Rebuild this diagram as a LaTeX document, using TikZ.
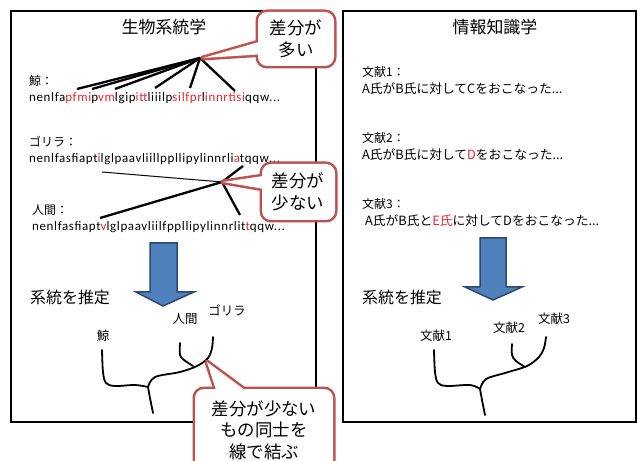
\documentclass[tikz,border=0pt]{standalone}
\usepackage{fontspec}
\setmainfont{Noto Sans CJK JP}
\newfontfamily\seqfont[LetterSpace=5]{Carlito}
\definecolor{calloutred}{HTML}{C0504D}
\definecolor{arrowblue}{HTML}{4F81BD}
\definecolor{arrowedge}{HTML}{2C4A70}
\definecolor{diffred}{HTML}{E8262B}
\newcommand\rd[1]{\textcolor{diffred}{#1}}
\tikzset{
  panel/.style={draw=black, line width=1.8bp},
  title/.style={inner sep=0, font=\fontsize{17}{20}\selectfont},
  big/.style={inner sep=0, font=\fontsize{16}{19}\selectfont},
  lbl/.style={inner sep=0, anchor=west, font=\fontsize{12}{14}\selectfont},
  doc/.style={inner sep=0, anchor=west, font=\fontsize{12.8}{15}\selectfont},
  seq/.style={inner sep=0, anchor=west, font=\seqfont\fontsize{13}{15}\selectfont},
  leaf/.style={inner sep=0, font=\fontsize{12.5}{14}\selectfont},
  calltext/.style={inner sep=0, align=center, font=\fontsize{17.5}{21.5}\selectfont},
  hubline/.style={line width=2.3bp, black},
  thinline/.style={line width=1bp, black},
  tree/.style={line width=1.8bp, black, line cap=round},
  bigarrow/.style={fill=arrowblue, draw=arrowedge, line width=1.5bp, line join=miter},
  cstroke/.style={draw=calloutred, line width=5bp, line join=round},
  cfill/.style={fill=white},
}
\begin{document}
\begin{tikzpicture}[x=1bp,y=-1bp]
\useasboundingbox (0,0) rectangle (638,461);
\clip (0,0) rectangle (638,461);

% panels
\draw[panel] (11,11) rectangle (316,422);
\draw[panel] (343,11) rectangle (636,422);

\node[title] (t1) at (164,27) {生物系統学};
\node[title] (t2) at (495,27) {情報知識学};

% left texts
\node[lbl] (whale) at (29,81) {鯨：};
\node[seq] (wseq) at (29,98) {nenlfa\rd{pfmi}p\rd{vm}lgip\rd{itt}liiilp\rd{silfpr}l\rd{innrtisi}qqw...};
\node[lbl] (gor) at (29,142) {ゴリラ：};
\node[seq] (gseq) at (29,159) {nenlfasfiapt\rd{i}lglpaavliillppllipylinnrli\rd{a}tqqw...};
\node[lbl] (hum) at (32,210) {人間：};
\node[seq] (hseq) at (32,227) {nenlfasfiapt\rd{v}lglpaavliilfppllipylinnrlit\rd{t}qqw...};

% hub lines (whale)
\coordinate (hub1) at (200,58);
\coordinate (w1) at (77,89);
\coordinate (w2) at (92,89);
\coordinate (w3) at (115,89);
\coordinate (w4) at (155,88);
\coordinate (w5) at (190,88);
\coordinate (w6) at (235,91);
\foreach \p in {w1,w2,w3,w4,w5,w6} \draw[hubline] (hub1) -- (\p);

% hub lines (gorilla / human)
\coordinate (hub2) at (222,182);
\coordinate (g1) at (102,172);
\coordinate (g2) at (243,166);
\coordinate (h1) at (100,218);
\coordinate (h2) at (240,215);
\draw[thinline] (g1) -- (hub2);
\draw[hubline] (hub2) -- (g2);
\draw[hubline] (h1) -- (hub2);
\draw[hubline] (hub2) -- (h2);

% arrows
\draw[bigarrow] (150,243) -- (177,243) -- (177,292) -- (194,292) -- (163,306) -- (136,292) -- (150,292) -- cycle;
\draw[bigarrow] (480,238) -- (506,238) -- (506,287) -- (522,287) -- (493,300) -- (465,287) -- (480,287) -- cycle;

\node[big, anchor=west] (est1) at (30,297) {系統を推定};
\node[big, anchor=west] (est2) at (362,297) {系統を推定};

% left tree
\node[leaf] (lw) at (103,336) {鯨};
\node[leaf] (lh) at (185,319) {人間};
\node[leaf] (lg) at (227,310) {ゴリラ};
\draw[tree] plot[smooth, tension=0.55] coordinates {(102,350) (103,372) (106,383) (115,386) (135,385) (148,387)};
\draw[tree] plot[smooth, tension=0.55] coordinates {(148,387) (150,398) (153,413)};
\draw[tree] plot[smooth, tension=0.55] coordinates {(148,387) (155,377) (180,372) (197,366) (208,358) (212,348) (213,337)};
\draw[tree] plot[smooth, tension=0.55] coordinates {(180,343) (180,355) (184,360) (193,366)};

% right tree
\node[leaf] (d1) at (436,336) {文献1};
\node[leaf] (d2) at (509,328) {文献2};
\node[leaf] (d3) at (554,319) {文献3};
\draw[tree] plot[smooth, tension=0.55] coordinates {(434,350) (435,372) (438,383) (447,386) (470,385) (480,389)};
\draw[tree] plot[smooth, tension=0.55] coordinates {(480,389) (482,400) (485,415)};
\draw[tree] plot[smooth, tension=0.55] coordinates {(480,389) (486,379) (505,373) (527,366) (539,357) (544,348) (546,337)};
\draw[tree] plot[smooth, tension=0.55] coordinates {(512,344) (512,355) (516,361) (525,367)};

% right texts
\node[lbl] (r1a) at (362,72) {文献1：};
\node[doc] (r1b) at (362,89) {A氏がB氏に対してCをおこなった...};
\node[lbl] (r2a) at (362,138) {文献2：};
\node[doc] (r2b) at (362,155) {A氏がB氏に対して\rd{D}をおこなった...};
\node[lbl] (r3a) at (362,204) {文献3：};
\node[doc] (r3b) at (365,221) {A氏がB氏と\rd{E氏}に対してDをおこなった...};

% callout 1
\coordinate (c1tip) at (203,58);
\draw[cstroke, rounded corners=9bp] (258,12) rectangle (334,66);
\draw[cstroke] (266,40) -- (c1tip) -- (266,54);
\fill[cfill, rounded corners=9bp] (258,12) rectangle (334,66);
\fill[cfill] (266,40) -- (c1tip) -- (266,54) -- cycle;
\node[calltext] (c1) at (296,39) {差分が\\多い};

% callout 2
\coordinate (c2tip) at (223,182);
\draw[cstroke, rounded corners=9bp] (262,164) rectangle (335,220);
\draw[cstroke] (270,175) -- (c2tip) -- (270,190);
\fill[cfill, rounded corners=9bp] (262,164) rectangle (335,220);
\fill[cfill] (270,175) -- (c2tip) -- (270,190) -- cycle;
\node[calltext] (c2) at (298,192) {差分が\\少ない};

% callout 3
\coordinate (c3tip) at (207,362);
\draw[cstroke, rounded corners=9bp] (195,389) rectangle (333,480);
\draw[cstroke] (218,396) -- (c3tip) -- (253,396);
\fill[cfill, rounded corners=9bp] (195,389) rectangle (333,480);
\fill[cfill] (218,396) -- (c3tip) -- (253,396) -- cycle;
\node[calltext] (c3) at (264,430) {差分が少ない\\もの同士を\\線で結ぶ};
\end{tikzpicture}
\end{document}
